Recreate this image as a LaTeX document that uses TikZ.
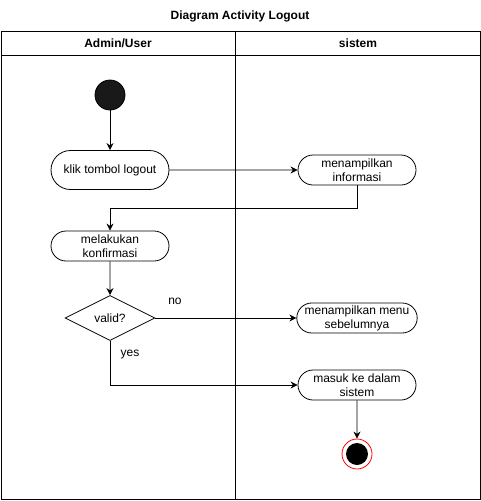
\documentclass[tikz,border=0pt]{standalone}
\usepackage{fontspec}
\setmainfont{Liberation Sans}
\usepackage{tikz}
\usetikzlibrary{arrows.meta, shapes.geometric, shapes.misc}

\tikzset{
    action/.style={draw, rounded rectangle, minimum width=120pt, minimum height=30pt, inner sep=1pt, align=center},
    decision/.style={draw, diamond, aspect=2, minimum width=90pt, minimum height=45pt, inner sep=0pt},
    startdot/.style={circle, fill=black!90, draw=black, minimum size=30pt, inner sep=0pt},
    enddot/.style={circle, draw=red, fill=white, minimum size=30pt, inner sep=0pt},
    enddotin/.style={circle, fill=black, minimum size=22pt, inner sep=0pt},
    flow/.style={->, line width=0.8pt},
    lanehead/.style={font=\fontsize{12}{14}\selectfont\bfseries}
}

\begin{document}
\begin{tikzpicture}[x=1pt, y=-1pt, line width=0.8pt, >={Stealth[length=7pt, width=7pt]}, font=\fontsize{12}{14}\selectfont]
    \useasboundingbox (0, 0) rectangle (481, 501);
    % Title
    \node [lanehead] (title) at (240, 16) {Diagram Activity Logout};
    % Swimlanes
    \draw (1, 31) rectangle (480, 499);
    \draw (1, 55) -- (480, 55);
    \draw (235, 31) -- (235, 499);
    \node [lanehead] (laneuser) at (118, 43) {Admin/User};
    \node [lanehead] (lanesys) at (358, 43) {sistem};
    % Admin/User
    \node [startdot] (start) at (110, 95) {};
    \node [action, minimum height=39pt] (klik) at (110, 170) {klik tombol logout};
    \node [action] (konf) at (110, 246) {melakukan\\konfirmasi};
    \node [decision] (valid) at (110, 318) {valid?};
    % sistem
    \node [action] (info) at (357, 170) {menampilkan\\informasi};
    \node [action] (menu) at (357, 318) {menampilkan menu\\sebelumnya};
    \node [action] (masuk) at (357, 385) {masuk ke dalam\\sistem};
    \node [enddot] (end) at (357, 454) {};
    \node [enddotin] (endin) at (357, 454) {};
    % Lines
    \draw [flow] (start) -- (klik);
    \draw [flow] (klik) -- (info);
    \draw [flow] (info.south) -- ++(0, 23) -| (konf.north);
    \draw [flow] (konf) -- (valid);
    \draw [flow] (valid.east) -- (menu.west);
    \node (lblno) at (175, 301) {no};
    \draw [flow] (valid.south) |- (masuk.west);
    \node (lblyes) at (130, 355) {yes};
    \draw [flow] (masuk) -- (end);
\end{tikzpicture}
\end{document}
